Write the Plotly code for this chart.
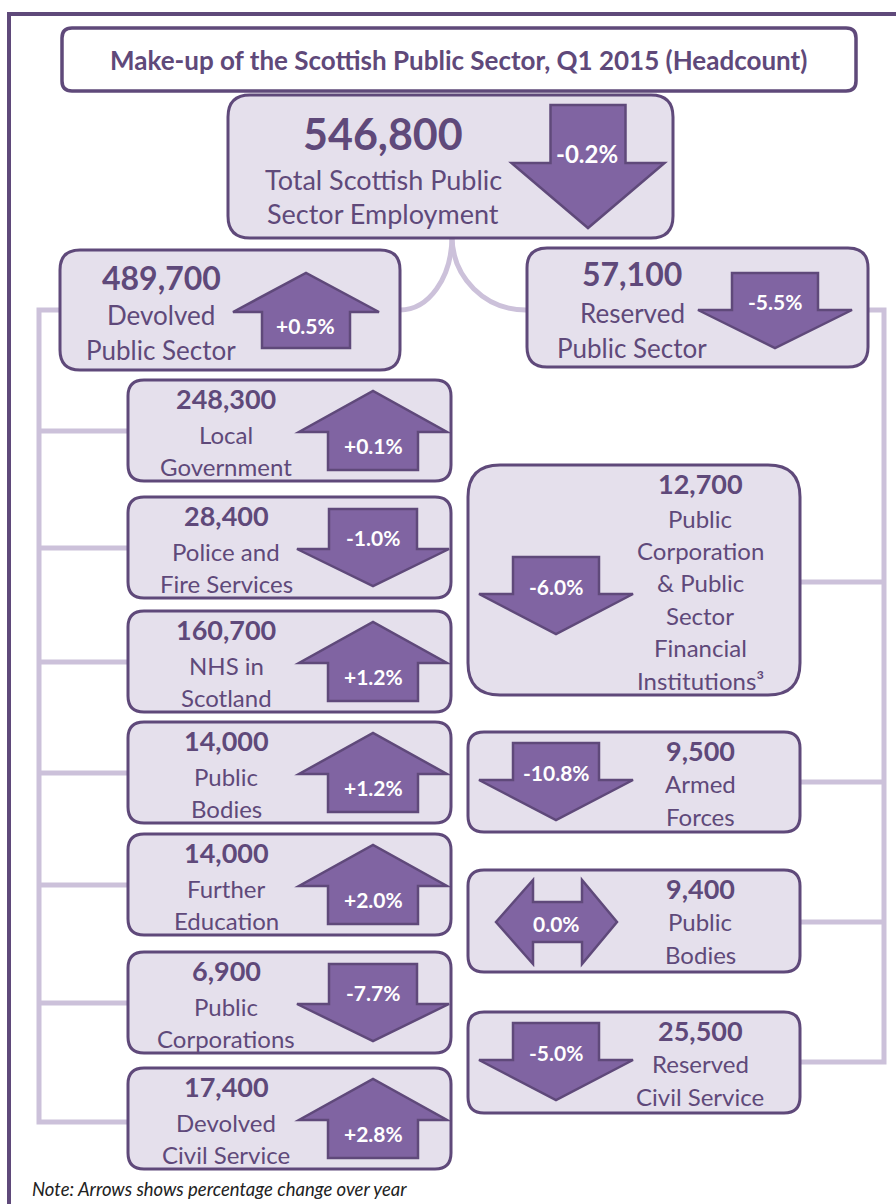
import plotly.graph_objects as go

# ---------------- data ----------------
title_text = "Make-up of the Scottish Public Sector, Q1 2015 (Headcount)"
note_text = "Note: Arrows shows percentage change over year"

total_labels = ["Total Scottish Public", "Sector Employment"]
total_values = [546800]
total_changes = [-0.2]

sector_labels = [["Devolved", "Public Sector"], ["Reserved", "Public Sector"]]
sector_values = [489700, 57100]
sector_changes = [0.5, -5.5]

devolved_labels = [["Local", "Government"], ["Police and", "Fire Services"],
                   ["NHS in", "Scotland"], ["Public", "Bodies"],
                   ["Further", "Education"], ["Public", "Corporations"],
                   ["Devolved", "Civil Service"]]
devolved_values = [248300, 28400, 160700, 14000, 14000, 6900, 17400]
devolved_changes = [0.1, -1.0, 1.2, 1.2, 2.0, -7.7, 2.8]

reserved_labels = [["Public", "Corporation", "& Public", "Sector", "Financial",
                    "Institutions³"],
                   ["Armed", "Forces"], ["Public", "Bodies"],
                   ["Reserved", "Civil Service"]]
reserved_values = [12700, 9500, 9400, 25500]
reserved_changes = [-6.0, -10.8, 0.0, -5.0]

# ---------------- layout / style ----------------
W, H = 896, 1204
FRAME = "#5f497a"
FILL = "#e5e0ec"
ARROW = "#8064a2"
CONN = "#ccc1da"
TEXT = "#5f497a"
FONT = "Lato, 'Open Sans', sans-serif"

left_tops = [380, 497, 611, 722, 834, 952, 1068]
left_x = (128, 451)
left_h = 101
right_x = (468, 800)
right_boxes = [(465, 695), (732, 832), (870, 972), (1012, 1113)]

shapes = []
annotations = []


def fmt_val(v):
    return f"{v:,}"


def fmt_chg(c):
    return "0.0%" if c == 0 else f"{c:+.1f}%"


def rrect(x0, y0, x1, y1, r, fill=FILL, lw=3, color=FRAME):
    p = (f"M {x0+r},{y0} L {x1-r},{y0} Q {x1},{y0} {x1},{y0+r} "
         f"L {x1},{y1-r} Q {x1},{y1} {x1-r},{y1} L {x0+r},{y1} "
         f"Q {x0},{y1} {x0},{y1-r} L {x0},{y0+r} Q {x0},{y0} {x0+r},{y0} Z")
    shapes.append(dict(type="path", path=p, fillcolor=fill,
                       line=dict(color=color, width=lw), xref="x", yref="y"))


def poly(pts):
    p = "M " + " L ".join(f"{x},{y}" for x, y in pts) + " Z"
    shapes.append(dict(type="path", path=p, fillcolor=ARROW,
                       line=dict(color=FRAME, width=2.5), xref="x", yref="y"))


def varrow(cx, shw, hhw, tail, base, tip):
    poly([(cx - shw, tail), (cx + shw, tail), (cx + shw, base), (cx + hhw, base),
          (cx, tip), (cx - hhw, base), (cx - shw, base)])


def harrow2(xl, xr, inl, inr, cy, hh, sh):
    poly([(xl, cy), (inl, cy - hh), (inl, cy - sh), (inr, cy - sh), (inr, cy - hh),
          (xr, cy), (inr, cy + hh), (inr, cy + sh), (inl, cy + sh), (inl, cy + hh)])


def text(x, y, s, size, bold=False, color=TEXT, italic=False, xanchor="center"):
    annotations.append(dict(x=x, y=y, xref="x", yref="y", text=s, showarrow=False,
                            xanchor=xanchor, yanchor="middle",
                            font=dict(family=FONT, size=size, color=color,
                                      weight="bold" if bold else "normal",
                                      style="italic" if italic else "normal")))


def line(pts, color=CONN, width=5):
    p = "M " + " L ".join(f"{x},{y}" for x, y in pts)
    shapes.append(dict(type="path", path=p, line=dict(color=color, width=width),
                       xref="x", yref="y"))


# ---------------- connectors ----------------
k = 0.5523
shapes.append(dict(type="path",
                   path=f"M 452,236 C 452,{238+k*72} {400+k*52},310 400,310",
                   line=dict(color=CONN, width=5), xref="x", yref="y"))
shapes.append(dict(type="path",
                   path=f"M 452,236 C 452,{238+k*72} {526-k*74},310 526,310",
                   line=dict(color=CONN, width=5), xref="x", yref="y"))
last_mid = left_tops[-1] + 54
line([(60, 310), (39, 310), (39, last_mid), (left_x[0], last_mid)])
for t in left_tops[:-1]:
    line([(39, t + 51), (left_x[0], t + 51)])
r_mids = [582, 782, 922, 1062]
line([(868, 310), (884, 310), (884, r_mids[-1]), (right_x[1], r_mids[-1])])
for m in r_mids[:-1]:
    line([(884, m), (right_x[1], m)])

# ---------------- outer frame ----------------
line([(W + 5, 14), (9, 14), (9, H + 5)], color=FRAME, width=4)

# ---------------- title ----------------
rrect(62, 28, 856, 91, 10, fill="white", lw=3.5)
text(458, 60, title_text, 26, bold=True)

# ---------------- total ----------------
rrect(228, 95, 673, 238, 22)
text(383, 133, fmt_val(total_values[0]), 43, bold=True)
text(383, 179, total_labels[0], 27)
text(383, 213, total_labels[1], 27)
varrow(588, 37.5, 76.5, 105, 163, 228)
text(587, 153, fmt_chg(total_changes[0]), 24, bold=True, color="white")

# ---------------- sectors ----------------
rrect(60, 250, 400, 370, 20)
text(161, 277, fmt_val(sector_values[0]), 32, bold=True)
text(161, 315, sector_labels[0][0], 26)
text(161, 350, sector_labels[0][1], 26)
if sector_changes[0] > 0:
    varrow(306, 44, 73, 348, 312, 273)
    text(305, 325, fmt_chg(sector_changes[0]), 21, bold=True, color="white")
else:
    varrow(306, 44, 73, 273, 310, 348)
    text(305, 300, fmt_chg(sector_changes[0]), 21, bold=True, color="white")
rrect(527, 248, 868, 367, 20)
text(632, 273, fmt_val(sector_values[1]), 32, bold=True)
text(632, 313, sector_labels[1][0], 26)
text(632, 348, sector_labels[1][1], 26)
if sector_changes[1] < 0:
    varrow(775, 43, 77, 273, 310, 348)
    text(775, 301, fmt_chg(sector_changes[1]), 21, bold=True, color="white")
else:
    varrow(775, 43, 77, 348, 310, 270)
    text(775, 326, fmt_chg(sector_changes[1]), 21, bold=True, color="white")

# ---------------- devolved sub boxes ----------------
for t, lab, v, c in zip(left_tops, devolved_labels, devolved_values, devolved_changes):
    rrect(left_x[0], t, left_x[1], t + left_h, 16)
    text(226, t + 18, fmt_val(v), 27, bold=True)
    text(226, t + 54, lab[0], 24)
    text(226, t + 86, lab[1], 24)
    if c > 0:
        varrow(373, 45, 74, t + 90, t + 52, t + 11)
        text(373, t + 65, fmt_chg(c), 21, bold=True, color="white")
    elif c < 0:
        varrow(373, 44, 76, t + 12, t + 52, t + 89)
        text(373, t + 40, fmt_chg(c), 21, bold=True, color="white")
    else:
        harrow2(313, 434, 350, 398, t + 52, 42, 20)
        text(373, t + 52, fmt_chg(c), 21, bold=True, color="white")

# ---------------- reserved sub boxes ----------------
for i, ((y0, y1), lab, v, c) in enumerate(zip(right_boxes, reserved_labels,
                                               reserved_values, reserved_changes)):
    if len(lab) > 2:
        rrect(right_x[0], y0, right_x[1], y1, 32)
        text(700, y0 + 18, fmt_val(v), 27, bold=True)
        for j, s in enumerate(lab):
            text(700, y0 + 53 + j * 32.4, s, 24)
        a0 = y0 + 81
    else:
        rrect(right_x[0], y0, right_x[1], y1, 16)
        text(700, y0 + 18, fmt_val(v), 27, bold=True)
        text(700, y0 + 51, lab[0], 24)
        text(700, y0 + 84, lab[1], 24)
        a0 = y0
    if c < 0:
        varrow(556, 43, 77, a0 + 11, a0 + 48, a0 + 88)
        text(556, a0 + 40, fmt_chg(c), 21, bold=True, color="white")
    elif c > 0:
        varrow(556, 43, 77, a0 + 88, a0 + 48, a0 + 10)
        text(556, a0 + 62, fmt_chg(c), 21, bold=True, color="white")
    else:
        harrow2(496, 617, 533, 582, a0 + 52, 42, 20)
        text(556, a0 + 53, fmt_chg(c), 21, bold=True, color="white")

# ---------------- note ----------------
text(30, 1189, note_text, 18.5, italic=True, color="#222222", xanchor="left")

fig = go.Figure()
fig.update_layout(
    width=W, height=H, margin=dict(l=0, r=0, t=0, b=0),
    paper_bgcolor="white", plot_bgcolor="white",
    xaxis=dict(range=[0, W], visible=False, fixedrange=True),
    yaxis=dict(range=[H, 0], visible=False, fixedrange=True),
    shapes=shapes, annotations=annotations, showlegend=False,
)
fig.write_html("out.html", config={"displayModeBar": False},
               post_script="document.body.style.margin='0';document.body.style.padding='0';document.body.style.overflow='hidden';")
